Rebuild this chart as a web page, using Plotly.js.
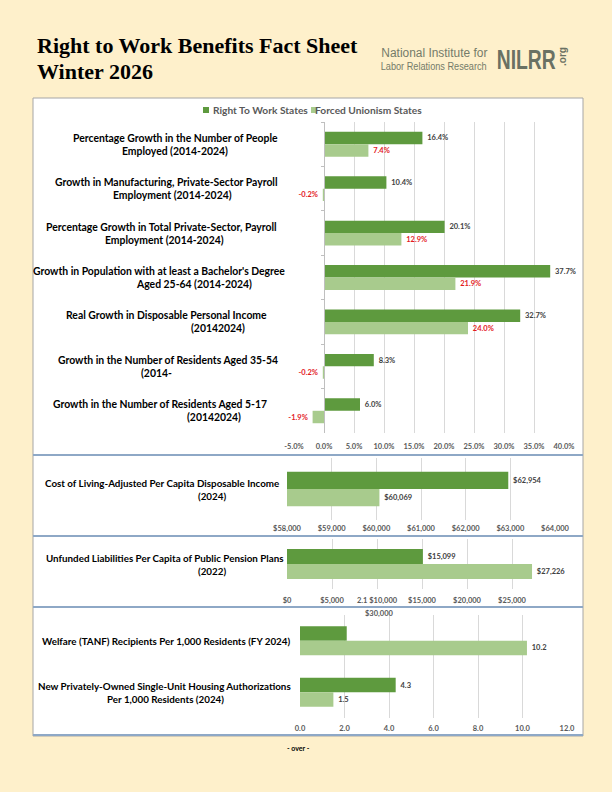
<!DOCTYPE html>
<html><head><meta charset="utf-8">
<script src="https://cdn.plot.ly/plotly-3.0.1.min.js"></script>
<style>html,body{margin:0;padding:0;background:#FEF0CB;}#chart{width:612px;height:792px;}</style>
</head><body><div id="chart"></div>
<script>
// ---------- DATA ----------
const seriesNames = ['Right To Work States', 'Forced Unionism States'];

const growthCategories = [
  'Percentage Growth in the Number of People<br>Employed (2014-2024)',
  'Growth in Manufacturing, Private-Sector Payroll<br>Employment (2014-2024)',
  'Percentage Growth in Total Private-Sector, Payroll<br>Employment (2014-2024)',
  "Growth in Population with at least a Bachelor's Degree<br>Aged 25-64 (2014-2024)",
  'Real Growth in Disposable Personal Income<br>(20142024)',
  'Growth in the Number of Residents Aged 35-54<br>(2014-',
  'Growth in the Number of Residents Aged 5-17<br>(20142024)'
];
const growthRTW    = [16.4, 10.4, 20.1, 37.7, 32.7, 8.3, 6.0];
const growthForced = [7.4, -0.2, 12.9, 21.9, 24.0, -0.2, -1.9];
const growthTicks  = [-5, 0, 5, 10, 15, 20, 25, 30, 35, 40];
const growthTickLabels = ['-5.0%','0.0%','5.0%','10.0%','15.0%','20.0%','25.0%','30.0%','35.0%','40.0%'];

const incomeCategories = ['Cost of Living-Adjusted Per Capita Disposable Income<br>(2024)'];
const incomeRTW    = [62954];
const incomeForced = [60069];
const incomeTicks  = [58000, 59000, 60000, 61000, 62000, 63000, 64000];
const incomeTickLabels = ['$58,000','$59,000','$60,000','$61,000','$62,000','$63,000','$64,000'];

const pensionCategories = ['Unfunded Liabilities Per Capita of Public Pension Plans<br>(2022)'];
const pensionRTW    = [15099];
const pensionForced = [27226];
const pensionTicks  = [0, 5000, 10000, 15000, 20000, 25000, 30000];
const pensionTickLabels = ['$0','$5,000','2.1 $10,000','$15,000','$20,000','$25,000','$30,000'];

const welfareCategories = [
  'Welfare (TANF) Recipients Per 1,000 Residents (FY 2024)',
  'New Privately-Owned Single-Unit Housing Authorizations<br>Per 1,000 Residents (2024)'
];
const welfareRTW    = [2.1, 4.3];
const welfareForced = [10.2, 1.5];
const welfareRTWLabelShown = [false, true];
const welfareTicks  = [0, 2, 4, 6, 8, 10, 12];
const welfareTickLabels = ['0.0','2.0','4.0','6.0','8.0','10.0','12.0'];

const titleLines = ['Right to Work Benefits Fact Sheet', 'Winter 2026'];
const logoLines = ['National Institute for', 'Labor Relations Research', 'NILRR', '.org'];
const footerText = '- over -';

// ---------- STYLE / LAYOUT HELPERS ----------
const W = 612, H = 792;
const X = p => p / W;
const Y = p => 1 - p / H;
const DARK = '#5E9A3E', LIGHT = '#A8CB8D';
const SANS = 'Lato, "Liberation Sans", sans-serif';
const LOGO = '"Liberation Sans", Arial, sans-serif';
const NBSP = '\u00A0';

const pct = v => v.toFixed(1) + '%';
const usd = v => '$' + v.toLocaleString('en-US');
const num = v => v.toFixed(1);
const pad = (s, v) => v < 0 ? s + NBSP : NBSP + s;

function pair(cats, rtw, forced, ax, w, fmt, forcedColor, rtwShown) {
  const mk = (vals, col, off, txtCol, shown) => ({
    type: 'bar', orientation: 'h', y: cats, x: vals,
    xaxis: 'x' + ax, yaxis: 'y' + ax,
    offset: off, width: w,
    marker: { color: col, line: { width: 0 } },
    text: vals.map((v, i) => (shown && !shown[i]) ? '' : pad(fmt(v), v)),
    textposition: 'outside', constraintext: 'none', cliponaxis: false,
    textfont: { family: SANS, size: 7.5, color: txtCol, weight: 'bold' },
    hoverinfo: 'skip'
  });
  return [
    Object.assign(mk(rtw, DARK, -w, '#404040', rtwShown), { name: seriesNames[0] }),
    Object.assign(mk(forced, LIGHT, 0, forcedColor, null), { name: seriesNames[1] })
  ];
}

const traces = [
  ...pair(growthCategories, growthRTW, growthForced, '', 0.28, pct, '#E3191E', null),
  ...pair(incomeCategories, incomeRTW, incomeForced, '2', 0.28, usd, '#404040', null),
  ...pair(pensionCategories, pensionRTW, pensionForced, '3', 0.30, usd, '#404040', null),
  ...pair(welfareCategories, welfareRTW, welfareForced, '4', 0.28, num, '#404040', welfareRTWLabelShown)
];

const tickFont = { family: SANS, size: 7.5, color: '#595959', weight: 'bold' };
function xax(dom, range, vals, text, anchor, standoff) {
  return { domain: dom, range: range, anchor: anchor, tickvals: vals, ticktext: text,
    showgrid: true, gridcolor: '#D9D9D9', gridwidth: 1, zeroline: false, showline: false,
    ticks: '', tickfont: tickFont, fixedrange: true, ticklabelstandoff: standoff };
}
function yax(dom, range, anchor) {
  return { domain: dom, range: range, anchor: anchor, type: 'category',
    showgrid: false, zeroline: false, showline: false, ticks: '', showticklabels: false, fixedrange: true };
}

const layout = {
  width: W, height: H, margin: { l: 0, r: 0, t: 0, b: 0, pad: 0 },
  paper_bgcolor: '#FEF0CB', plot_bgcolor: 'rgba(0,0,0,0)',
  showlegend: false, barmode: 'overlay',
  xaxis:  xax([X(294), X(564)], [-5, 40], growthTicks, growthTickLabels, 'y', 7),
  yaxis:  Object.assign(yax([Y(433), Y(122)], [6.5, -0.5], 'x'), {
            anchor: 'free', position: X(324), showline: true, linecolor: '#BFBFBF', linewidth: 1,
            ticks: 'outside', tickson: 'boundaries', ticklen: 3, tickcolor: '#BFBFBF' }),
  xaxis2: xax([X(287), X(555)], [58000, 64000], incomeTicks, incomeTickLabels, 'y2', 2),
  yaxis2: yax([Y(520), Y(458)], [0.5, -0.5], 'x2'),
  xaxis3: xax([X(287), X(557)], [0, 30000], pensionTicks,
            pensionTickLabels.map((t, i) => i === pensionTicks.length - 1 ? '' : t), 'y3', 5),
  yaxis3: yax([Y(589), Y(539)], [0.5, -0.5], 'x3'),
  xaxis4: xax([X(300), X(567)], [0, 12], welfareTicks, welfareTickLabels, 'y4', 4),
  yaxis4: yax([Y(718), Y(615)], [1.5, -0.5], 'x4'),
  shapes: [
    { type: 'rect', xref: 'paper', yref: 'paper', x0: X(33), x1: X(583), y0: Y(736), y1: Y(98),
      fillcolor: '#FFFFFF', line: { color: '#A6A6A6', width: 1 }, layer: 'below' },
    ...[455, 536, 607, 735].map(p => ({ type: 'line', xref: 'paper', yref: 'paper',
      x0: X(33), x1: X(583), y0: Y(p), y1: Y(p), line: { color: '#8EA8C6', width: 2 }, layer: 'below' })),
    { type: 'rect', xref: 'paper', yref: 'paper', x0: X(203), x1: X(209), y0: Y(113), y1: Y(107),
      fillcolor: DARK, line: { width: 0 } },
    { type: 'rect', xref: 'paper', yref: 'paper', x0: X(311), x1: X(317), y0: Y(113), y1: Y(107),
      fillcolor: LIGHT, line: { width: 0 } }
  ],
  annotations: []
};

const A = layout.annotations;
const fitWidths = {};
// Title
A.push({ text: '<b>' + titleLines[0] + '</b>', xref: 'paper', yref: 'paper', x: X(35), y: Y(46),
  xanchor: 'left', yanchor: 'middle', showarrow: false, font: { family: '"Liberation Serif", serif', size: 22, color: '#000' } });
A.push({ text: '<b>' + titleLines[1] + '</b>', xref: 'paper', yref: 'paper', x: X(35), y: Y(71),
  xanchor: 'left', yanchor: 'middle', showarrow: false, font: { family: '"Liberation Serif", serif', size: 22, color: '#000' } });
// Logo (squeezed to the widths of the condensed original)
fitWidths[A.length] = 106;
A.push({ text: logoLines[0], xref: 'paper', yref: 'paper', x: X(434), y: Y(53), xanchor: 'center', yanchor: 'middle',
  showarrow: false, font: { family: LOGO, size: 12, color: '#747B69' } });
fitWidths[A.length] = 106;
A.push({ text: logoLines[1], xref: 'paper', yref: 'paper', x: X(434), y: Y(65.5), xanchor: 'center', yanchor: 'middle',
  showarrow: false, font: { family: LOGO, size: 10.5, color: '#747B69' } });
fitWidths[A.length] = 59;
A.push({ text: logoLines[2], xref: 'paper', yref: 'paper', x: X(526), y: Y(60), xanchor: 'center', yanchor: 'middle',
  showarrow: false, font: { family: LOGO, size: 27, color: '#6A7163', weight: 'bold' } });
A.push({ text: logoLines[3], xref: 'paper', yref: 'paper', x: X(562), y: Y(57), xanchor: 'center', yanchor: 'middle',
  textangle: -90, showarrow: false, font: { family: LOGO, size: 10, color: '#6A7163', weight: 'bold' } });
// Legend
A.push({ text: '<b>' + seriesNames[0] + '</b>', xref: 'paper', yref: 'paper', x: X(211), y: Y(110), xanchor: 'left', yanchor: 'middle',
  showarrow: false, font: { family: SANS, size: 10.2, color: '#595959' } });
A.push({ text: '<b>' + seriesNames[1] + '</b>', xref: 'paper', yref: 'paper', x: X(313), y: Y(110), xanchor: 'left', yanchor: 'middle',
  showarrow: false, font: { family: SANS, size: 10.2, color: '#595959' } });
// Footer
A.push({ text: '<b>' + footerText + '</b>', xref: 'paper', yref: 'paper', x: X(298), y: Y(748), xanchor: 'center', yanchor: 'middle',
  showarrow: false, font: { family: SANS, size: 7, color: '#000' } });
// Displaced axis label
A.push({ text: pensionTickLabels[pensionTickLabels.length - 1], xref: 'paper', yref: 'paper', x: X(379), y: Y(613),
  xanchor: 'center', yanchor: 'middle', showarrow: false, font: tickFont });

// Category labels (line by line, each centred at its own x)
function catLabels(cats, ax, x1, x2, size) {
  cats.forEach((c, i) => {
    const lines = c.split('<br>');
    lines.forEach((ln, j) => {
      const shift = lines.length === 1 ? 0 : (j === 0 ? 6.5 : -6.5);
      A.push({ text: '<b>' + ln + '</b>', xref: 'paper', yref: 'y' + ax, x: X(j === 0 ? x1[i] : x2[i]), y: i,
        yshift: shift, xanchor: 'center', yanchor: 'middle', showarrow: false,
        font: { family: SANS, size: size, color: '#000' } });
    });
  });
}
catLabels(growthCategories, '', [175, 167, 161, 159, 167, 168, 160], [175, 172, 164, 194, 218, 156, 214], 10.4);
catLabels(incomeCategories, '2', [162], [212], 9.8);
catLabels(pensionCategories, '3', [165], [212], 9.8);
catLabels(welfareCategories, '4', [166, 164], [0, 165], 9.8);

Plotly.newPlot('chart', traces, layout, { staticPlot: true, displayModeBar: false }).then(gd => {
  gd.querySelectorAll('g.annotation').forEach(g => {
    const i = +g.getAttribute('data-index');
    if (fitWidths[i]) {
      const t = g.querySelector('text.annotation-text');
      if (t) { t.setAttribute('textLength', fitWidths[i]); t.setAttribute('lengthAdjust', 'spacingAndGlyphs'); }
    }
  });
});
</script>
</body></html>
